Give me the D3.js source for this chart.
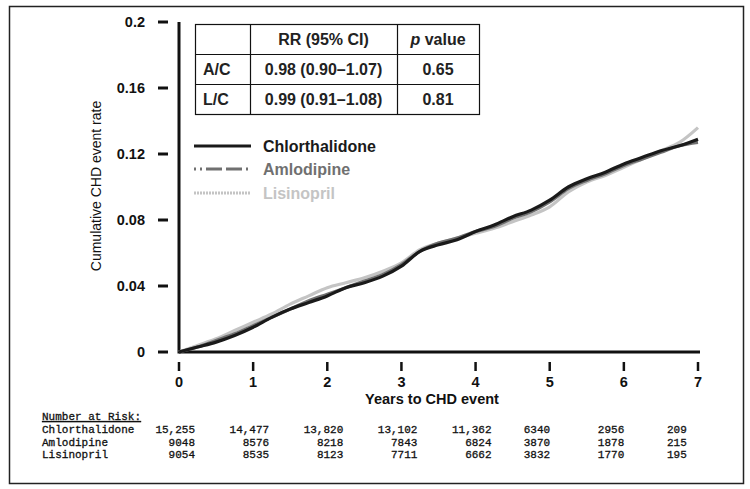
<!DOCTYPE html>
<html>
<head>
<meta charset="utf-8">
<script src="https://cdn.jsdelivr.net/npm/d3@7"></script>
<style>
  body { margin: 0; background: #fff; }
  svg { display: block; }
</style>
</head>
<body>
<div id="chart"></div>
<script>
// follow-up times (years) and cumulative CHD event rates
const years = [0, 0.25, 0.5, 0.75, 1, 1.25, 1.5, 1.75, 2, 2.25, 2.5, 2.75, 3, 3.25, 3.5, 3.75,
  4, 4.25, 4.5, 4.75, 5, 5.25, 5.5, 5.75, 6, 6.25, 6.5, 6.75, 7];
const chlorthalidone = [0, 0.003, 0.006, 0.010, 0.015, 0.021, 0.026, 0.030, 0.034, 0.039, 0.042, 0.046,
  0.052, 0.061, 0.065, 0.068, 0.073, 0.077, 0.082, 0.086, 0.092, 0.100, 0.105, 0.109, 0.114, 0.118,
  0.122, 0.125, 0.129];
const amlodipine = [0, 0.003, 0.007, 0.011, 0.016, 0.021, 0.026, 0.031, 0.035, 0.039, 0.043, 0.047,
  0.053, 0.061, 0.066, 0.069, 0.073, 0.076, 0.081, 0.085, 0.091, 0.099, 0.104, 0.108, 0.113, 0.117,
  0.121, 0.125, 0.127];
const lisinopril = [0, 0.004, 0.008, 0.013, 0.018, 0.023, 0.029, 0.034, 0.039, 0.042, 0.045, 0.049,
  0.054, 0.062, 0.066, 0.069, 0.072, 0.075, 0.079, 0.083, 0.088, 0.097, 0.103, 0.107, 0.112, 0.117,
  0.122, 0.127, 0.136];

const seriesNames = ["Chlorthalidone", "Amlodipine", "Lisinopril"];
const seriesColors = ["#1a1a1a", "#707070", "#c4c4c4"];

const yTicks = [0, 0.04, 0.08, 0.12, 0.16, 0.2];
const yTickLabels = ["0", "0.04", "0.08", "0.12", "0.16", "0.2"];
const xTicks = [0, 1, 2, 3, 4, 5, 6, 7];

// hazard ratio table
const tableHeader = ["", "RR (95% CI)", "p value"];
const tableRows = [
  ["A/C", "0.98 (0.90\u20131.07)", "0.65"],
  ["L/C", "0.99 (0.91\u20131.08)", "0.81"]
];

// number at risk
const riskYears = [0, 1, 2, 3, 4, 5, 6, 7];
const riskChlorthalidone = ["15,255", "14,477", "13,820", "13,102", "11,362", "6340", "2956", "209"];
const riskAmlodipine = ["9048", "8576", "8218", "7843", "6824", "3870", "1878", "215"];
const riskLisinopril = ["9054", "8535", "8123", "7711", "6662", "3832", "1770", "195"];

const width = 750, height = 489;
const svg = d3.select("#chart").append("svg")
  .attr("width", width)
  .attr("height", height);

// outer frame
svg.append("rect")
  .attr("x", 9.5).attr("y", 6.5)
  .attr("width", 734).attr("height", 477)
  .attr("fill", "none")
  .attr("stroke", "#222")
  .attr("stroke-width", 1.5);

const x = d3.scaleLinear().domain([0, 7]).range([179, 698]);
const y = d3.scaleLinear().domain([0, 0.2]).range([352, 22]);

const sans = "Arial, 'Liberation Sans', sans-serif";

// axis lines
svg.append("line")
  .attr("x1", x(0)).attr("x2", x(0))
  .attr("y1", y(0.2)).attr("y2", y(0) + 1.5)
  .attr("stroke", "#111").attr("stroke-width", 3);
svg.append("line")
  .attr("x1", x(0)).attr("x2", x(7) + 2)
  .attr("y1", y(0)).attr("y2", y(0))
  .attr("stroke", "#111").attr("stroke-width", 3);

// y ticks (detached dashes)
const yt = svg.append("g");
yt.selectAll("line").data(yTicks).enter().append("line")
  .attr("x1", 158).attr("x2", 168)
  .attr("y1", d => y(d)).attr("y2", d => y(d))
  .attr("stroke", "#111").attr("stroke-width", 3);
yt.selectAll("text").data(yTicks).enter().append("text")
  .attr("x", 145)
  .attr("y", d => y(d))
  .attr("dy", "0.36em")
  .attr("text-anchor", "end")
  .style("font-family", sans)
  .style("font-size", "14.5px")
  .style("font-weight", "bold")
  .attr("fill", "#111")
  .text((d, i) => yTickLabels[i]);

// x ticks
const xt = svg.append("g");
xt.selectAll("line").data(xTicks).enter().append("line")
  .attr("x1", d => x(d)).attr("x2", d => x(d))
  .attr("y1", 362).attr("y2", 371)
  .attr("stroke", "#111").attr("stroke-width", 2.5);
xt.selectAll("text").data(xTicks).enter().append("text")
  .attr("x", d => x(d))
  .attr("y", 387)
  .attr("text-anchor", "middle")
  .style("font-family", sans)
  .style("font-size", "14.5px")
  .style("font-weight", "bold")
  .attr("fill", "#111")
  .text(d => d);

// axis titles
svg.append("text")
  .attr("x", 432).attr("y", 404)
  .attr("text-anchor", "middle")
  .style("font-family", sans)
  .style("font-size", "14.5px")
  .style("font-weight", "bold")
  .attr("fill", "#111")
  .text("Years to CHD event");
svg.append("text")
  .attr("transform", "translate(101,186) rotate(-90)")
  .attr("text-anchor", "middle")
  .style("font-family", sans)
  .style("font-size", "14px")
  .attr("fill", "#111")
  .text("Cumulative CHD event rate");

// curves
const seriesValues = [chlorthalidone, amlodipine, lisinopril];
const line = d3.line()
  .x(d => x(d[0]))
  .y(d => y(d[1]))
  .curve(d3.curveMonotoneX);
const drawOrder = [2, 1, 0];
drawOrder.forEach(i => {
  svg.append("path")
    .datum(years.map((t, k) => [t, seriesValues[i][k]]))
    .attr("d", line)
    .attr("fill", "none")
    .attr("stroke", seriesColors[i])
    .attr("stroke-width", 3.2)
    .attr("stroke-linejoin", "round");
});

// RR table
const colX = [195, 250, 397, 479];
const rowY = [24, 54, 84, 114];
const tbl = svg.append("g");
tbl.append("rect")
  .attr("x", colX[0] + 0.5).attr("y", rowY[0] + 0.5)
  .attr("width", colX[3] - colX[0]).attr("height", rowY[3] - rowY[0])
  .attr("fill", "#fff").attr("stroke", "#111").attr("stroke-width", 1.2);
[1, 2].forEach(c => tbl.append("line")
  .attr("x1", colX[c] + 0.5).attr("x2", colX[c] + 0.5)
  .attr("y1", rowY[0]).attr("y2", rowY[3])
  .attr("stroke", "#111").attr("stroke-width", 1.2));
[1, 2].forEach(r => tbl.append("line")
  .attr("x1", colX[0]).attr("x2", colX[3])
  .attr("y1", rowY[r] + 0.5).attr("y2", rowY[r] + 0.5)
  .attr("stroke", "#111").attr("stroke-width", 1.2));

const cellText = (r, c) => {
  const t = tbl.append("text")
    .attr("y", (rowY[r] + rowY[r + 1]) / 2)
    .attr("dy", "0.36em")
    .style("font-family", sans)
    .style("font-size", "16px")
    .style("font-weight", "bold")
    .attr("fill", "#222");
  if (c === 0) {
    t.attr("x", colX[0] + 8).attr("text-anchor", "start");
  } else {
    t.attr("x", (colX[c] + colX[c + 1]) / 2).attr("text-anchor", "middle");
  }
  return t;
};
cellText(0, 1).text(tableHeader[1]);
const pv = cellText(0, 2);
pv.append("tspan").style("font-style", "italic").text(tableHeader[2].split(" ")[0]);
pv.append("tspan").text(" " + tableHeader[2].split(" ")[1]);
tableRows.forEach((row, r) => row.forEach((v, c) => cellText(r + 1, c).text(v)));

// legend
const legY = [146, 169, 193];
const legDash = [null, "2 4 2 4 16 4 16 4", "2 1"];
const leg = svg.append("g");
seriesNames.forEach((name, i) => {
  leg.append("line")
    .attr("x1", 194).attr("x2", 251)
    .attr("y1", legY[i]).attr("y2", legY[i])
    .attr("stroke", seriesColors[i])
    .attr("stroke-width", 3)
    .attr("stroke-dasharray", legDash[i]);
  leg.append("text")
    .attr("x", 263).attr("y", legY[i])
    .attr("dy", "0.36em")
    .style("font-family", sans)
    .style("font-size", "16px")
    .style("font-weight", "bold")
    .attr("fill", seriesColors[i])
    .text(name);
});

// number at risk table
const mono = "'Liberation Mono', 'Courier New', monospace";
const risk = svg.append("g")
  .style("font-family", mono)
  .style("font-size", "11px")
  .attr("fill", "#111")
  .attr("stroke", "#111")
  .attr("stroke-width", 0.3);
risk.append("text")
  .attr("x", 42).attr("y", 420)
  .style("text-decoration", "underline")
  .text("Number at Risk:");
const riskRows = [riskChlorthalidone, riskAmlodipine, riskLisinopril];
const riskBase = [433, 446, 458];
// column anchors relative to the year tick
const colAnchor = riskYears.map(t => t < 5 ? ["end", 16] : ["start", t === 7 ? -31 : -26]);
riskRows.forEach((vals, r) => {
  risk.append("text")
    .attr("x", 42).attr("y", riskBase[r])
    .text(seriesNames[r]);
  risk.selectAll(null).data(vals).enter().append("text")
    .attr("x", (d, k) => x(riskYears[k]) + colAnchor[k][1])
    .attr("y", riskBase[r])
    .attr("text-anchor", (d, k) => colAnchor[k][0])
    .text(d => d);
});
</script>
</body>
</html>
